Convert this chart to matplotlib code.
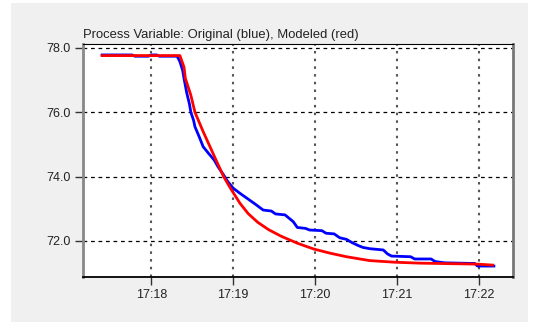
import matplotlib
matplotlib.use("Agg")
import matplotlib.pyplot as plt
import matplotlib.dates as mdates
import pandas as pd
from matplotlib.patches import Rectangle

# original process variable (blue)
orig_time = ["17:17:24", "17:17:46", "17:17:48", "17:17:58", "17:18:00", "17:18:04",
             "17:18:06", "17:18:19", "17:18:21", "17:18:23", "17:18:24", "17:18:26",
             "17:18:28", "17:18:29", "17:18:31", "17:18:32", "17:18:35", "17:18:38",
             "17:18:42", "17:18:46", "17:18:49", "17:18:53", "17:18:56", "17:19:00",
             "17:19:05", "17:19:10", "17:19:16", "17:19:22", "17:19:28", "17:19:31",
             "17:19:38", "17:19:44", "17:19:47", "17:19:53", "17:19:56", "17:20:05",
             "17:20:08", "17:20:14", "17:20:18", "17:20:23", "17:20:27", "17:20:32",
             "17:20:35", "17:20:40", "17:20:50", "17:20:53", "17:20:56", "17:21:10",
             "17:21:13", "17:21:25", "17:21:28", "17:21:35", "17:21:57", "17:21:59",
             "17:22:11"]
orig_val = [77.78, 77.78, 77.74, 77.74, 77.78, 77.78,
            77.74, 77.74, 77.57, 77.30, 77.05, 76.60,
            76.25, 76.00, 75.75, 75.55, 75.25, 74.93,
            74.72, 74.52, 74.30, 74.05, 73.85, 73.64,
            73.48, 73.33, 73.15, 72.96, 72.93, 72.84,
            72.81, 72.60, 72.42, 72.39, 72.34, 72.32,
            72.24, 72.22, 72.10, 72.05, 71.95, 71.85,
            71.80, 71.76, 71.72, 71.60, 71.53, 71.51,
            71.44, 71.44, 71.36, 71.32, 71.30, 71.22,
            71.22]

# modeled process variable (red)
model_time = ["17:17:24", "17:18:21", "17:18:24", "17:18:25", "17:18:29", "17:18:32",
              "17:18:38", "17:18:46", "17:18:53", "17:18:58", "17:19:05", "17:19:11",
              "17:19:18", "17:19:26", "17:19:35", "17:19:47", "17:19:59", "17:20:11",
              "17:20:23", "17:20:40", "17:20:58", "17:21:17", "17:21:59", "17:22:10"]
model_val = [77.76, 77.76, 77.40, 77.05, 76.53, 76.00,
             75.40, 74.65, 74.00, 73.64, 73.17, 72.85,
             72.58, 72.35, 72.15, 71.93, 71.75, 71.62,
             71.51, 71.39, 71.34, 71.31, 71.28, 71.25]

y_ticks = [72.0, 74.0, 76.0, 78.0]
x_ticks = ["17:18", "17:19", "17:20", "17:21", "17:22"]


def to_dt(s):
    return pd.to_datetime("2020-01-01 " + s)


fig = plt.figure(figsize=(5.38, 3.22), dpi=100)
fig.patch.set_facecolor("white")
fig.patches.append(Rectangle((11 / 538, 0), 517 / 538, 1 - 3 / 322,
                             transform=fig.transFigure, facecolor="#f0f0f0",
                             edgecolor="none", zorder=-10))
ax = fig.add_axes([83 / 538, 1 - 277 / 322, 430 / 538, 233 / 322])
ax.set_facecolor("white")

ax.plot([to_dt(t) for t in orig_time], orig_val, color="#0000ff", lw=2, zorder=3)
ax.plot([to_dt(t) for t in model_time], model_val, color="#ff0000", lw=2, zorder=4)

ax.set_xlim(to_dt("17:17:10"), to_dt("17:22:25"))
ax.set_ylim(70.88, 78.12)
ax.set_yticks(y_ticks)
ax.set_yticklabels([f"{v:.1f}" for v in y_ticks])
ax.set_xticks([to_dt(t + ":00") for t in x_ticks])
ax.xaxis.set_major_formatter(mdates.DateFormatter("%H:%M"))

ax.grid(axis="y", color="black", ls=(0, (3, 3)), lw=0.9)
ax.grid(axis="x", color="#555555", ls=(0, (1.2, 2.5)), lw=1.5)

ax.tick_params(length=6, width=1, color="#333333", labelsize=9,
               labelcolor="#222222", pad=3)
for lab in ax.get_xticklabels() + ax.get_yticklabels():
    lab.set_family("Liberation Sans")

ax.spines["left"].set_color("#888888")
ax.spines["left"].set_linewidth(2)
ax.spines["right"].set_color("#777777")
ax.spines["right"].set_linewidth(2)
ax.spines["top"].set_color("black")
ax.spines["bottom"].set_color("black")
ax.spines["bottom"].set_linewidth(1.3)

ax.set_title("Process Variable: Original (blue), Modeled (red)", loc="left",
             fontsize=9.4, family="Liberation Sans", color="#222222", pad=4)

fig.savefig("out.png", dpi=100)
